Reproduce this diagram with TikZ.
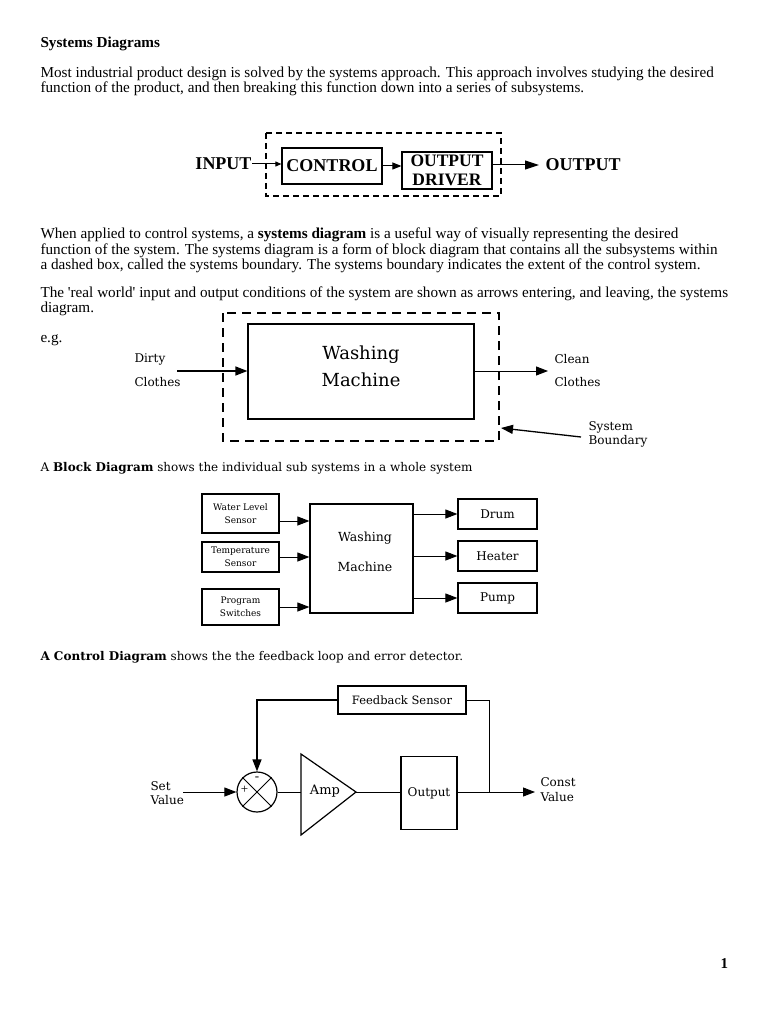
\documentclass[tikz,border=0pt]{standalone}
\usepackage{fontspec}
\setmainfont{Liberation Serif}
\newfontfamily\bookfont{DejaVu Serif}
\usetikzlibrary{arrows.meta,positioning}

\begin{document}
\begin{tikzpicture}[x=1pt,y=-1pt,line width=1pt,
    body/.style={anchor=base west,inner sep=0pt,font=\fontsize{15.2}{15}\selectfont},
    booktext/.style={anchor=base west,inner sep=0pt,font=\bookfont\fontsize{12}{14}\selectfont},
    lbl/.style={inner sep=0pt,align=center,font=\bookfont\fontsize{12}{14}\selectfont},
    small/.style={inner sep=0pt,align=center,font=\bookfont\fontsize{9}{13.5}\selectfont},
    bigbold/.style={inner sep=0pt,align=center,font=\bfseries\fontsize{18}{19}\selectfont},
    block/.style={draw,line width=1.2pt,inner sep=0pt,align=center},
    boundary/.style={line width=1.4pt,dash pattern=on 9pt off 6pt},
    arrow/.style={-{Triangle[length=12pt,width=9pt]}}]
    \fill[white] (0,0) rectangle (768,1024);
    \useasboundingbox (0,0) rectangle (768,1024);
    %% text of the page
    \node[body,font=\bfseries\fontsize{15.2}{15}\selectfont] (title) at (40,48) {Systems Diagrams};
    \node[body] (para1a) at (40,78) {Most industrial product design is solved by the systems approach. This approach involves studying the desired};
    \node[body] (para1b) at (40,93) {function of the product, and then breaking this function down into a series of subsystems.};
    \node[body] (para2a) at (40,239) {When applied to control systems, a \textbf{systems diagram} is a useful way of visually representing the desired};
    \node[body] (para2b) at (40,254) {function of the system. The systems diagram is a form of block diagram that contains all the subsystems within};
    \node[body] (para2c) at (40,269) {a dashed box, called the systems boundary. The systems boundary indicates the extent of the control system.};
    \node[body] (para3a) at (40,297) {The \textquotesingle real world\textquotesingle\ input and output conditions of the system are shown as arrows entering, and leaving, the systems};
    \node[body] (para3b) at (40,312) {diagram.};
    \node[body] (eg) at (40,342) {e.g.};
    \node[booktext] (blocktxt) at (40,471) {A \textbf{Block Diagram} shows the individual sub systems in a whole system};
    \node[booktext] (ctrltxt) at (40,660) {\textbf{A Control Diagram} shows the the feedback loop and error detector.};
    \node[body,font=\bfseries\fontsize{15}{15}\selectfont] (pagenum) at (720,968) {1};

    %% systems diagram, top
    \draw[line width=1.2pt,dash pattern=on 6pt off 4pt] (266,133) rectangle (501,196);
    \node[block,minimum width=100,minimum height=36,bigbold] (control) at (332,166) {CONTROL};
    \node[block,minimum width=90,minimum height=37,bigbold,font=\bfseries\fontsize{17.5}{19}\selectfont] (driver) at (447,170.5) {OUTPUT\\DRIVER};
    \node[bigbold,anchor=east] (input) at (252,164) {INPUT};
    \node[bigbold,anchor=west] (output) at (545,165) {OUTPUT};
    \draw[-{Triangle[length=6pt,width=5pt]}] (input.east) -- (input.east -| control.west);
    \draw[-{Triangle[length=9pt,width=7pt]}] (control.east) -- (control.east -| driver.west);
    \draw[-{Triangle[length=14pt,width=9pt]}] (driver.east |- output.west) -- ([xshift=-6pt]output.west);

    %% washing machine with its boundary
    \draw[boundary] (223,313) rectangle (499,441);
    \node[block,minimum width=226,minimum height=95] (machine) at (361,371.5) {};
    \node[lbl,font=\bookfont\fontsize{18}{27}\selectfont] (machtxt) at (361,366.5) {Washing\\Machine};
    \node[lbl,anchor=west] (dirty) at (134,359) {Dirty};
    \node[lbl,anchor=west] (dirtyb) at (134,382) {Clothes};
    \node[lbl,anchor=west] (clean) at (554,359) {Clean};
    \node[lbl,anchor=west] (cleanb) at (554,382) {Clothes};
    \node[lbl,anchor=west] (sysb) at (588,427) {System};
    \node[lbl,anchor=west] (sysbb) at (588,441) {Boundary};
    \coordinate (dirtyin) at (177,371);
    \coordinate (cleanout) at (548,371);
    \coordinate (sbtail) at (581,437);
    \coordinate (sbhead) at (501,428);
    \draw[arrow,line width=1.4pt] (dirtyin) -- (dirtyin -| machine.west);
    \draw[arrow] (machine.east |- cleanout) -- (cleanout);
    \draw[arrow,line width=1.3pt] (sbtail) -- (sbhead);

    %% block diagram
    \node[block,minimum width=77,minimum height=39,small] (water) at (240.5,513.5) {Water Level\\Sensor};
    \node[block,minimum width=77,minimum height=30,small] (temp) at (240.5,557) {Temperature\\Sensor};
    \node[block,minimum width=77,minimum height=36,small] (prog) at (240.5,607) {Program\\Switches};
    \node[block,minimum width=103,minimum height=109] (wash) at (361.5,558.5) {};
    \node[lbl,font=\bookfont\fontsize{12.5}{30}\selectfont] (washtxt) at (365,552) {Washing\\Machine};
    \node[block,minimum width=79,minimum height=30,lbl] (drum) at (497.5,514) {Drum};
    \node[block,minimum width=79,minimum height=30,lbl] (heater) at (497.5,556) {Heater};
    \node[block,minimum width=79,minimum height=30,lbl] (pump) at (497.5,598) {Pump};
    \coordinate (win) at ([yshift=-7.5pt]water.east);
    \draw[arrow] (win) -- (win -| wash.west);
    \draw[arrow] (temp.east) -- (temp.east -| wash.west);
    \draw[arrow] (prog.east) -- (prog.east -| wash.west);
    \foreach \out in {drum,heater,pump}
        \draw[arrow] (\out.west -| wash.east) -- (\out.west);

    %% control diagram
    \node[block,minimum width=128,minimum height=28,lbl,font=\bookfont\fontsize{11.5}{14}\selectfont] (fbsensor) at (402,700) {Feedback Sensor};
    \node[draw,circle,line width=1.2pt,minimum size=40,inner sep=0pt] (sum) at (257,792) {};
    \draw (sum.north west) -- (sum.south east);
    \draw (sum.north east) -- (sum.south west);
    \node[inner sep=0pt,font=\fontsize{13}{13}\selectfont] (plus) at (244.5,790) {+};
    \node[inner sep=0pt,font=\fontsize{13}{13}\selectfont] (minus) at (257,779) {-};
    \coordinate (ampin) at (301,792);
    \coordinate (ampout) at (356,792);
    \draw[line width=1.2pt] (301,754) -- (ampout) -- (301,835) -- cycle;
    \node[lbl,font=\bookfont\fontsize{13}{14}\selectfont] (amp) at (325,791) {Amp};
    \node[block,minimum width=56,minimum height=73,lbl] (outbox) at (429,793) {Output};
    \node[lbl,anchor=west] (setv) at (150,786) {Set};
    \node[lbl,anchor=west] (setvb) at (150,800) {Value};
    \node[lbl,anchor=west] (constv) at (540,782) {Const};
    \node[lbl,anchor=west] (constvb) at (540,797) {Value};
    \coordinate (setin) at (183,792);
    \coordinate (tap) at (489,792);
    \coordinate (constout) at (535,792);
    \draw[arrow] (setin) -- (sum.west);
    \draw (sum.east) -- (ampin);
    \draw (ampout) -- (ampout -| outbox.west);
    \draw[arrow] (ampout -| outbox.east) -- (constout);
    \draw (tap) |- (fbsensor.east);
    \draw[arrow,line width=1.4pt] (fbsensor.west) -| (sum.north);
\end{tikzpicture}
\end{document}
